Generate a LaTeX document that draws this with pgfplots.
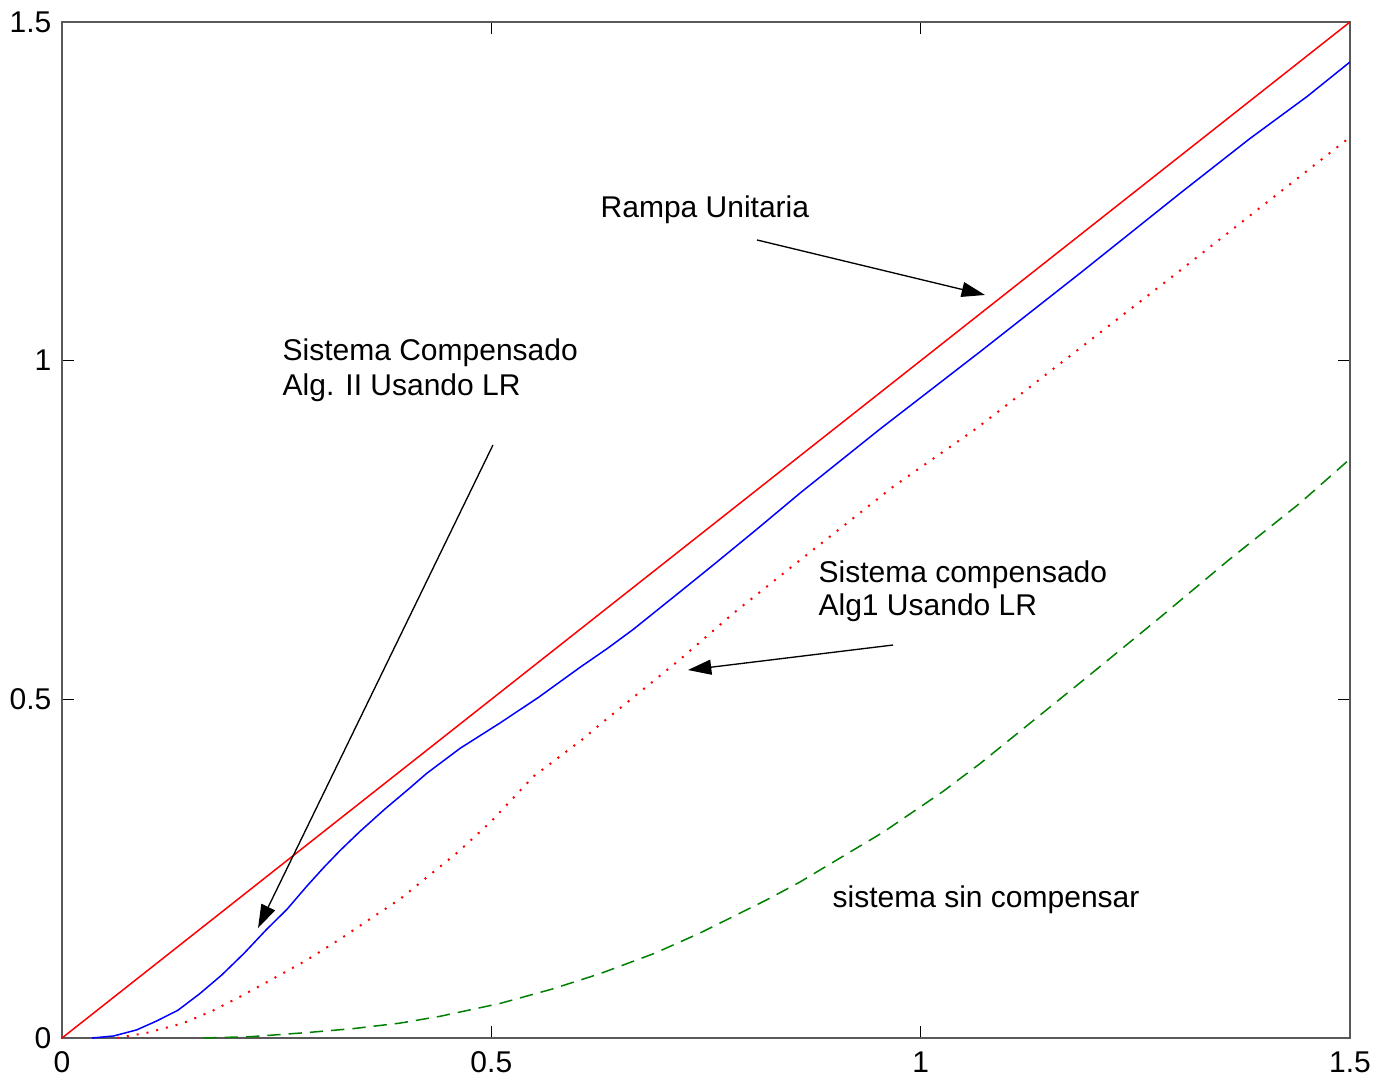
\documentclass[border=0pt]{standalone}
\usepackage{fontspec}
\setmainfont{Liberation Sans}
\usepackage{pgfplots}
\pgfplotsset{compat=1.18}
\usetikzlibrary{arrows.meta}
\begin{document}
\fontsize{9pt}{10.5pt}\selectfont
\begin{tikzpicture}
\begin{axis}[
  scale only axis, width=386.4pt, height=304.8pt,
  xmin=0, xmax=1.5, ymin=0, ymax=1.5,
  xtick={0,0.5,1,1.5}, ytick={0,0.5,1,1.5},
  xticklabels={0,0.5,1,1.5}, yticklabels={0,0.5,1,1.5},
  tick align=inside, major tick length=3.6pt,
  axis line style={black!65, line width=0.6pt},
  tick style={black, line width=0.4pt},
  ticklabel style={font=\fontsize{9pt}{10pt}\selectfont},
  xticklabel style={yshift=-1pt},
  /pgf/number format/assume math mode=true,
]
% unit ramp
\addplot[red, line width=0.45pt] coordinates {(0,0) (1.5,1.5)};
% compensated Alg. II
\addplot[blue, line width=0.45pt] coordinates {
(0.035,0) (0.06,0.003) (0.087,0.012) (0.11,0.025) (0.135,0.041) (0.16,0.065)
(0.186,0.093) (0.212,0.125) (0.238,0.16) (0.262,0.19) (0.285,0.224) (0.305,0.252)
(0.324,0.277) (0.347,0.305) (0.376,0.338) (0.405,0.369) (0.425,0.391) (0.445,0.41)
(0.464,0.428) (0.51,0.465) (0.555,0.503) (0.603,0.547) (0.635,0.575) (0.665,0.603)
(0.72,0.659) (0.76,0.70) (0.81,0.752) (0.86,0.805) (0.9526,0.899) (1.069,1.013)
(1.1855,1.129) (1.302,1.247) (1.3835,1.328) (1.45,1.39) (1.5,1.441)};
% compensated Alg1
\addplot[red, line width=0.6pt, dash pattern=on 0.6pt off 2.4pt] coordinates {
(0.064,0) (0.1,0.008) (0.1413,0.022) (0.175,0.04) (0.2073,0.061) (0.245,0.087)
(0.285,0.115) (0.325,0.147) (0.3626,0.179) (0.3936,0.205) (0.4616,0.275) (0.5,0.32)
(0.5489,0.386) (0.6052,0.44) (0.6266,0.463) (0.7189,0.558) (0.7818,0.627) (0.86,0.706)
(0.968,0.814) (1.065,0.900) (1.1933,1.026) (1.300,1.131) (1.3874,1.218) (1.5,1.33)};
% uncompensated
\addplot[green!50!black, line width=0.45pt, dash pattern=on 4pt off 2.4pt] coordinates {
(0.1646,0) (0.22,0.002) (0.285,0.008) (0.34,0.014) (0.3936,0.022) (0.44,0.032)
(0.51,0.051) (0.57,0.072) (0.6266,0.095) (0.69,0.125) (0.743,0.155) (0.8207,0.204)
(0.859,0.23) (0.9565,0.304) (1.026,0.364) (1.069,0.405) (1.193,0.532)
(1.276,0.618) (1.359,0.706) (1.442,0.79) (1.5,0.855)};
% annotations
\node[anchor=base west, inner sep=0pt] at (axis cs:0.6266,1.2114) {Rampa Unitaria};
\node[anchor=base west, inner sep=0pt] at (axis cs:0.2562,1.0003) {Sistema Compensado};
\node[anchor=base west, inner sep=0pt] at (axis cs:0.2562,0.9486) {Alg. II Usando LR};
\node[anchor=base west, inner sep=0pt] at (axis cs:0.8804,0.6725) {Sistema compensado};
\node[anchor=base west, inner sep=0pt] at (axis cs:0.8804,0.6238) {Alg1 Usando LR};
\node[anchor=base west, inner sep=0pt] at (axis cs:0.8967,0.1922) {sistema sin compensar};
\draw[black, line width=0.4pt, -{Triangle[length=7pt,width=4.5pt]}] (axis cs:0.8094,1.1782) -- (axis cs:1.0749,1.0970);
\draw[black, line width=0.4pt, -{Triangle[length=7pt,width=4.5pt]}] (axis cs:0.5019,0.8755) -- (axis cs:0.2283,0.1624);
\draw[black, line width=0.4pt, -{Triangle[length=7pt,width=4.5pt]}] (axis cs:0.9678,0.5802) -- (axis cs:0.7290,0.5433);
\end{axis}
\pgfresetboundingbox
\path ([xshift=-18.6pt,yshift=-13.2pt]current axis.south west) rectangle ([xshift=9pt,yshift=6.6pt]current axis.north east);
\end{tikzpicture}
\end{document}
